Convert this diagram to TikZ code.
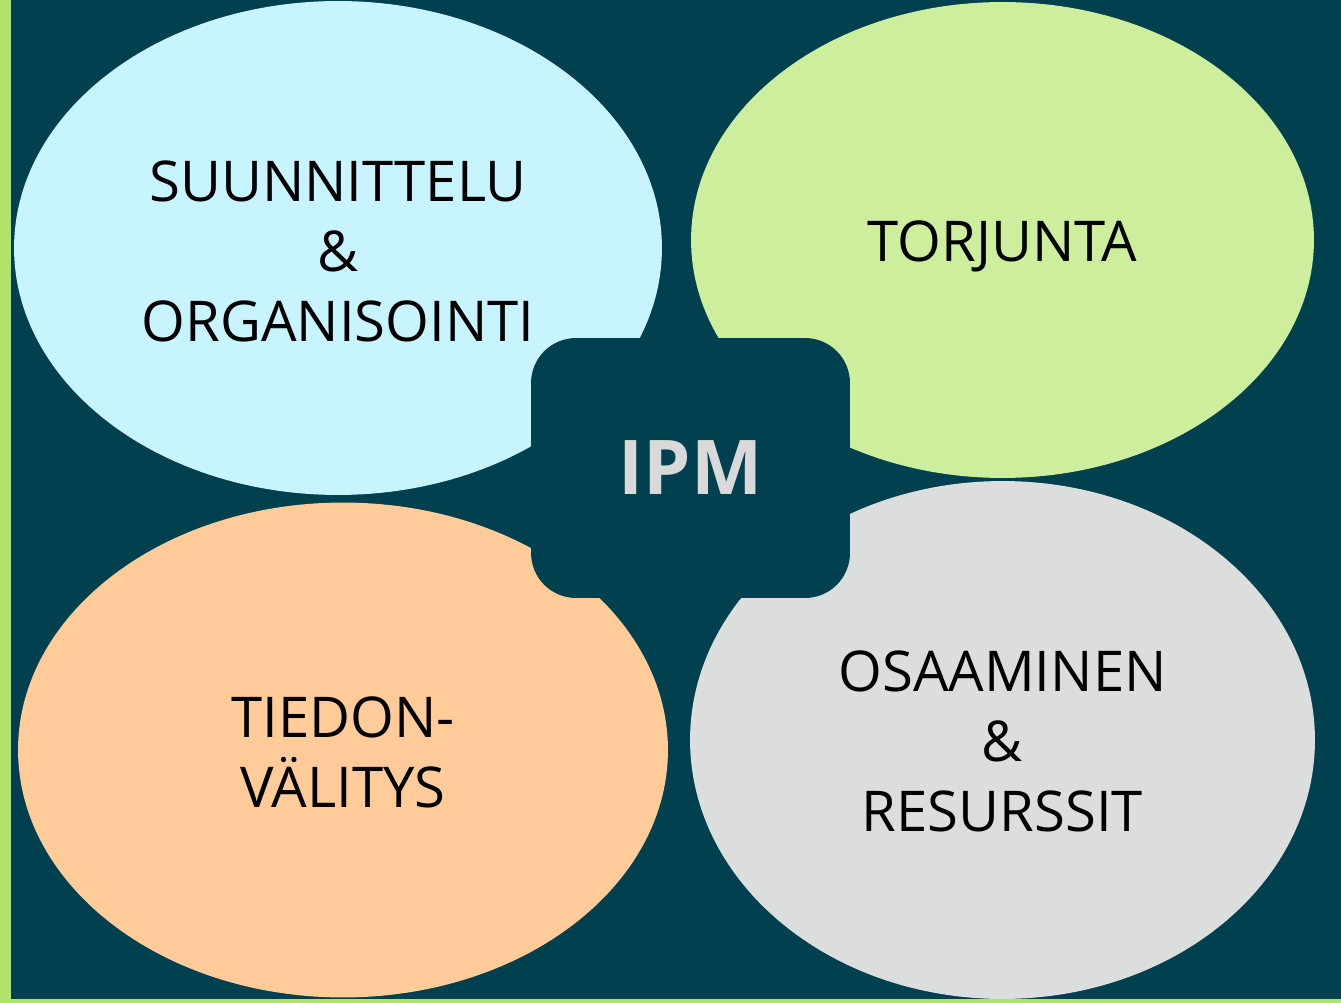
\documentclass[tikz,border=0pt]{standalone}
\usepackage{fontspec}
\setmainfont{Open Sans}
\usepackage{xcolor}
\usetikzlibrary{shapes.geometric,positioning}

\definecolor{bgteal}{HTML}{00404F}
\definecolor{framegreen}{HTML}{B0E36A}
\definecolor{planblue}{HTML}{C7F4FF}
\definecolor{controlgreen}{HTML}{CDEE9D}
\definecolor{infopeach}{HTML}{FFCC99}
\definecolor{skillgray}{HTML}{DCDDDD}
\definecolor{ipmgray}{HTML}{D9D9D9}

\begin{document}
\begin{tikzpicture}[
        x=0.02cm, y=-0.02cm,
        part/.style={ellipse, inner sep=0pt},
        partlabel/.style={align=center, text=black, inner sep=0pt,
            font=\fontsize{32}{39.8}\selectfont},
        hub/.style={rectangle, rounded corners=0.9cm, fill=bgteal,
            minimum width=6.38cm, minimum height=5.2cm, text=ipmgray,
            font=\fontsize{43}{50}\selectfont\bfseries}
    ]
        \useasboundingbox (0,0) rectangle (1341,1003);
        \fill[framegreen] (0,0) rectangle (1341,1003);
        \fill[bgteal] (11,0) rectangle (1341,999);

        % four ellipses
        \node[part, fill=planblue, minimum width=12.96cm, minimum height=9.88cm] (plan) at (338,248) {};
        \node[part, fill=controlgreen, minimum width=12.46cm, minimum height=9.52cm] (ctrl) at (1002.5,240) {};
        \node[part, fill=infopeach, minimum width=13cm, minimum height=9.9cm] (info) at (343,750) {};
        \node[part, fill=skillgray, minimum width=12.5cm, minimum height=10.36cm] (skill) at (1002.5,740) {};

        \node[partlabel] (planlabel) at ([yshift=-0.06cm]plan.center) {SUUNNITTELU\\\&\\ORGANISOINTI};
        \node[partlabel] (ctrllabel) at ([yshift=-0.13cm]ctrl.center) {TORJUNTA};
        \node[partlabel] (infolabel) at ([yshift=-0.04cm]info.center) {TIEDON-\\VÄLITYS};
        \node[partlabel] (skilllabel) at ([yshift=-0.02cm]skill.center) {OSAAMINEN\\\&\\RESURSSIT};

        \node[hub] (ipm) at (690.5,468) {IPM};
    \end{tikzpicture}
\end{document}
